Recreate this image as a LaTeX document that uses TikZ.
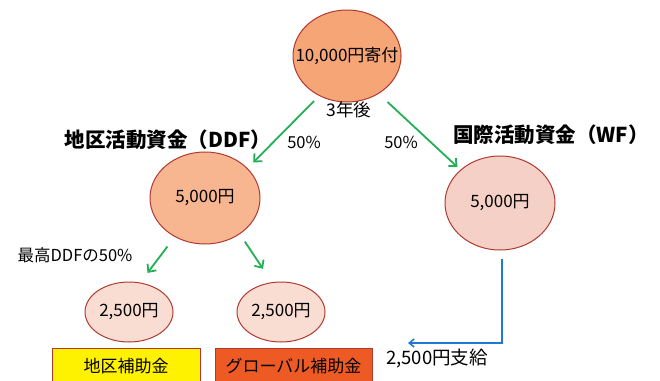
\documentclass[tikz,border=0pt]{standalone}
\usepackage{fontspec}
\setmainfont{Noto Sans CJK JP}
\usetikzlibrary{arrows.meta,shapes.geometric}
\definecolor{rimred}{HTML}{B03A30}
\definecolor{topfill}{HTML}{F5A576}
\definecolor{ddffill}{HTML}{F7B690}
\definecolor{wffill}{HTML}{F4D0C6}
\definecolor{smallfill}{HTML}{F9DDD2}
\definecolor{flowgreen}{HTML}{22AF55}
\definecolor{flowblue}{HTML}{1F78D1}
\definecolor{grantorange}{HTML}{EE5A24}

\begin{document}
\begin{tikzpicture}[x=1pt,y=-1pt,
	fund/.style={ellipse,draw=rimred,line width=1pt,inner sep=-16pt,font=\fontsize{17}{19}\selectfont},
	grant/.style={rectangle,draw=rimred,line width=0.8pt,minimum width=148pt,minimum height=36pt,inner sep=0pt,font=\fontsize{17}{19}\selectfont},
	green arrow/.style={draw=flowgreen,line width=1.8pt,-{Straight Barb[length=6pt,width=11pt]}},
	blue arrow/.style={draw=flowblue,line width=1.5pt,-{Straight Barb[length=5pt,width=8pt]}}]
	\useasboundingbox (0,0) rectangle (660,380);
	% funds
	\node[fund,fill=topfill,minimum width=108pt,minimum height=92pt] (gift) at (347,56) {10,000円寄付};
	\node[fund,fill=ddffill,minimum width=110pt,minimum height=92pt] (ddf) at (205,198) {5,000円};
	\node[fund,fill=wffill,minimum width=110pt,minimum height=94pt] (wf) at (500,203) {5,000円};
	\node[fund,fill=smallfill,minimum width=88pt,minimum height=60pt] (dpart) at (129,312) {2,500円};
	\node[fund,fill=smallfill,minimum width=88pt,minimum height=60pt] (gpart) at (281,312) {2,500円};
	% titles
	\node[font=\fontsize{20.5}{22}\selectfont\bfseries] (ddftitle) at (168,140) {地区活動資金（DDF）};
	\node[font=\fontsize{20.5}{22}\selectfont\bfseries] (wftitle) at (551,135) {国際活動資金（WF）};
	% grants
	\node[grant,fill=yellow] (dgrant) at (126,366) {地区補助金};
	\node[grant,fill=grantorange,minimum width=157pt] (ggrant) at (293.5,366) {グローバル補助金};
	% labels
	\node[font=\fontsize{17.5}{19}\selectfont] (later) at (349,110) {3年後};
	\node[font=\fontsize{16.5}{18}\selectfont] (lhalf) at (304,142) {50\%};
	\node[font=\fontsize{16.5}{18}\selectfont] (rhalf) at (401,142) {50\%};
	\node[font=\fontsize{16.5}{18}\selectfont] (maxddf) at (75,255) {最高DDFの50\%};
	\node[font=\fontsize{18.5}{20}\selectfont] (payout) at (437,358) {2,500円支給};
	\coordinate (payend) at (408,343);
	% flows
	\draw[green arrow,shorten <=7pt,shorten >=8pt] (gift.235) -- (ddf.35);
	\draw[green arrow,shorten <=12pt,shorten >=4pt] (gift.310) -- (wf.140);
	\draw[green arrow,shorten <=12pt,shorten >=12pt] (ddf.232) -- (dpart.69);
	\draw[green arrow,shorten <=9pt,shorten >=16pt] (ddf.314) -- (gpart.107);
	\draw[blue arrow,shorten <=8pt] ([xshift=2pt]wf.south) |- (payend);
\end{tikzpicture}
\end{document}
